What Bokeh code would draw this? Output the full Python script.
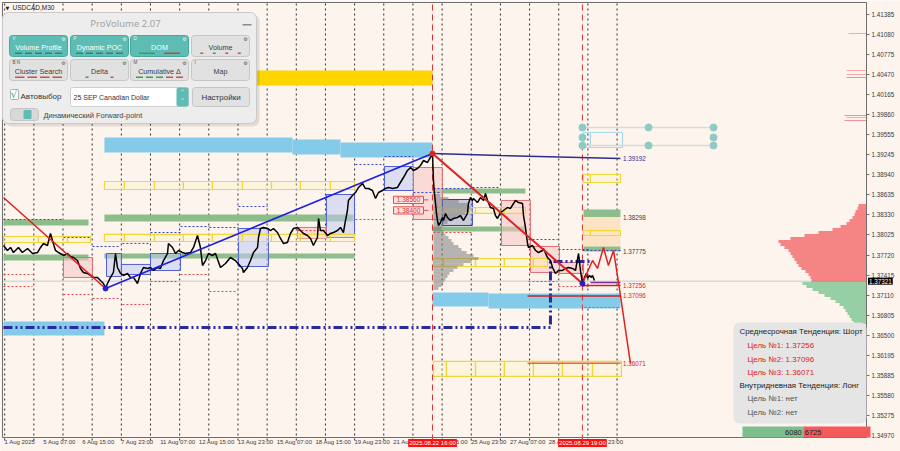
from bokeh.plotting import figure
from bokeh.models import Range1d, FixedTicker, NumeralTickFormatter, BoxAnnotation, Label, LinearAxis
from bokeh.core.properties import value
from bokeh.embed import file_html
from bokeh.resources import INLINE

# ============================ DATA ============================
symbol = "USDCAD,M30"
# time unit: trading hours counted from Fri 1 Aug 2025 23:00
x_label_t = [0, 32, 64, 96, 128, 160, 192, 224, 256, 288, 320, 352, 384, 416, 448, 480]
x_labels = ["1 Aug 2025", "5 Aug 07:00", "6 Aug 15:00", "7 Aug 23:00", "11 Aug 07:00",
            "12 Aug 15:00", "13 Aug 23:00", "15 Aug 07:00", "18 Aug 15:00", "19 Aug 23:00",
            "21 Aug 07:00", "22 Aug 15:00", "25 Aug 23:00", "27 Aug 07:00", "28 Aug 15:00",
            "29 Aug 23:00"]
y_ticks = [1.41385, 1.41080, 1.40775, 1.40470, 1.40165, 1.39860, 1.39555, 1.39245, 1.38940,
           1.38635, 1.38330, 1.38025, 1.37720, 1.37415, 1.37110, 1.36805, 1.36500, 1.36195,
           1.35885, 1.35580, 1.35275, 1.34970]
day_sep_t = [1, 25, 49, 73, 97, 121, 145, 169, 193, 217, 241, 265, 289, 313, 337, 361, 385,
             409, 433, 457, 481, 505]
event_t = [353.1, 476.5]
event_labels = ["2025.08.22 16:00", "2025.08.29 19:00"]
last_price = 1.37321

price_t = [0, 3.3, 5.8, 8.2, 12.3, 15.6, 19.8, 23.9, 28.0, 30.5,
           32.9, 36.2, 38.7, 40.3, 42.8, 45.3, 49.4, 52.7, 55.1, 57.6,
           60.9, 63.4, 65.8, 69.1, 71.6, 74.1, 77.4, 79.8, 82.3, 84.0,
           85.6, 88.1, 90.5, 92.2, 93.8, 96.3, 98.8, 102.1, 104.5, 107.0,
           110.3, 112.8, 115.2, 118.5, 121.0, 123.5, 126.7, 129.2, 131.7, 135.0,
           135.8, 139.1, 141.6, 144.0, 147.3, 149.8, 153.9, 156.4, 159.7, 162.1,
           163.8, 166.3, 168.7, 172.0, 174.5, 178.6, 182.7, 186.8, 190.9, 196.7,
           197.5, 200.8, 203.3, 205.8, 209.1, 209.9, 211.5, 214.0, 217.3, 219.8,
           222.2, 225.5, 228.0, 230.5, 233.7, 236.2, 238.7, 242.0, 244.4, 246.9,
           250.2, 252.7, 255.1, 258.4, 259.3, 260.9, 263.4, 266.7, 269.1, 271.6,
           274.9, 277.4, 279.8, 281.5, 283.1, 283.9, 287.2, 289.7, 292.2, 295.5,
           297.9, 300.4, 303.7, 306.2, 308.6, 311.9, 314.4, 316.9, 320.2, 324.3,
           326.7, 329.2, 332.5, 335.0, 337.4, 340.7, 343.2, 345.7, 349.0, 351.4,
           353.1, 353.9, 354.7, 355.6, 356.4, 357.2, 358.0, 359.7, 361.3, 362.1,
           363.8, 365.4, 367.9, 370.4, 373.7, 376.1, 378.6, 381.9, 382.7, 384.4,
           386.0, 386.8, 390.1, 392.6, 395.1, 396.7, 398.4, 400.8, 403.3, 404.9,
           406.6, 409.1, 411.5, 414.8, 417.3, 419.8, 421.4, 423.9, 427.2, 428.0,
           429.6, 431.3, 432.1, 435.4, 437.9, 440.3, 443.6, 444.4, 447.7, 450.2,
           451.9, 454.3, 456.8, 460.1, 462.6, 465.0, 468.3, 470.8, 473.3, 474.9,
           476.5, 478.2, 479.8, 480.7, 482.3, 483.9, 484.8, 486.4]
price_v = [1.37865, 1.37789, 1.37835, 1.37758, 1.37835, 1.37758, 1.37819, 1.37743, 1.37758, 1.37835,
           1.37895, 1.37865, 1.38048, 1.37941, 1.37789, 1.37758, 1.37713, 1.37743, 1.37697, 1.37682,
           1.37636, 1.37515, 1.37454, 1.37439, 1.37408, 1.37378, 1.37378, 1.37332, 1.37286, 1.37210,
           1.37286, 1.37378, 1.37454, 1.37743, 1.37530, 1.37439, 1.37408, 1.37439, 1.37378, 1.37378,
           1.37286, 1.37439, 1.37530, 1.37515, 1.37530, 1.37484, 1.37530, 1.37515, 1.37636, 1.37743,
           1.37895, 1.37835, 1.37743, 1.37789, 1.37758, 1.37743, 1.37758, 1.37835, 1.38017, 1.37835,
           1.37560, 1.37636, 1.37743, 1.37713, 1.37743, 1.37530, 1.37591, 1.37682, 1.37636, 1.37515,
           1.37454, 1.37530, 1.37636, 1.37758, 1.37835, 1.37987, 1.38124, 1.38140, 1.38124, 1.38093,
           1.38124, 1.38063, 1.37972, 1.37895, 1.37911, 1.38048, 1.38124, 1.38140, 1.38093, 1.38048,
           1.38017, 1.37972, 1.37865, 1.37987, 1.38277, 1.38093, 1.38093, 1.38017, 1.38048, 1.38063,
           1.38093, 1.38140, 1.38063, 1.38246, 1.38398, 1.38551, 1.38627, 1.38672, 1.38749, 1.38810,
           1.38733, 1.38733, 1.38703, 1.38581, 1.38672, 1.38703, 1.38733, 1.38749, 1.38733, 1.38749,
           1.38825, 1.38901, 1.39008, 1.39053, 1.39008, 1.39038, 1.39084, 1.39160, 1.39130, 1.39206,
           1.39267, 1.38855, 1.38657, 1.38505, 1.38353, 1.38246, 1.38170, 1.38216, 1.38292, 1.38246,
           1.38353, 1.38292, 1.38246, 1.38277, 1.38292, 1.38322, 1.38246, 1.38353, 1.38505, 1.38596,
           1.38551, 1.38581, 1.38520, 1.38596, 1.38551, 1.38657, 1.38551, 1.38444, 1.38429, 1.38322,
           1.38277, 1.38368, 1.38398, 1.38444, 1.38429, 1.38505, 1.38551, 1.38520, 1.38505, 1.38322,
           1.38140, 1.37895, 1.37835, 1.37865, 1.37789, 1.37758, 1.37789, 1.37819, 1.37682, 1.37636,
           1.37530, 1.37439, 1.37484, 1.37484, 1.37515, 1.37530, 1.37515, 1.37484, 1.37743, 1.37484,
           1.37286, 1.37378, 1.37439, 1.37363, 1.37408, 1.37378, 1.37408, 1.37332]

# volume zones
gold_t0, gold_t1, gold_top, gold_bot = [207.4], [353.1], [1.40531], [1.40303]
sky_t0 = [83.1, 237.9, 277.4, 353.1, 399.2, 0.0]
sky_t1 = [237.9, 277.4, 353.1, 399.2, 507.8, 83.1]
sky_top = [1.39511, 1.39480, 1.39434, 1.37149, 1.37134, 1.36707]
sky_bot = [1.39282, 1.39252, 1.39206, 1.36935, 1.36905, 1.36494]
green_t0 = [83.1, 0.0, 0.0, 83.1, 353.1, 353.1, 477.4, 477.4]
green_t1 = [288.1, 70.0, 70.0, 288.9, 429.6, 429.6, 507.8, 507.8]
green_top = [1.38337, 1.38261, 1.37728, 1.37743, 1.38733, 1.38154, 1.38414, 1.37850]
green_bot = [1.38231, 1.38170, 1.37636, 1.37667, 1.38657, 1.38078, 1.38298, 1.37775]
peach_t0, peach_t1, peach_top, peach_bot = [477.4], [507.8], [1.38298], [1.37850]

# yellow value-area boxes (edges in time, top/bottom price)
yel1_edges, yel1_top, yel1_bot = [83.1, 99.6, 124.3, 148.1, 172.0, 196.7, 220.6, 244.4, 269.1, 288.9], 1.38840, 1.38718
yel2_edges, yel2_top, yel2_bot = [83.1, 99.6, 124.3, 148.1, 172.0, 196.7, 220.6, 244.4, 269.1, 288.9], 1.38033, 1.37926
yel3_edges, yel3_top, yel3_bot = [0.0, 28.8, 52.7, 71.6], 1.38002, 1.37911
yel4_edges, yel4_top, yel4_bot = [353.9, 362.1, 388.5, 412.3, 436.2, 447.7], 1.37667, 1.37545
yel5_edges, yel5_top, yel5_bot = [353.9, 364.6, 388.5, 412.3, 436.2, 460.1, 484.8, 508.6], 1.36098, 1.35869
yel6_edges, yel6_top, yel6_bot = [353.9, 362.1, 388.5, 412.3, 429.6], 1.38444, 1.38353
yel7_edges, yel7_top, yel7_bot = [477.4, 483.1, 507.8], 1.38947, 1.38825
yel8_edges, yel8_top, yel8_bot = [477.4, 483.1, 507.8], 1.38093, 1.38017
lb_edges, lb_top, lb_bot = [477.4, 483.1, 509.5], 1.39587, 1.39358

# daily range boxes
up_t0 = [84.8, 97.1, 121.0, 193.4, 265.8, 313.6]
up_t1 = [97.1, 121.0, 145.7, 218.1, 288.9, 337.4]
up_hi = [1.37743, 1.37576, 1.37743, 1.38124, 1.38642, 1.39069]
up_lo = [1.37393, 1.37423, 1.37484, 1.37545, 1.37987, 1.38703]
dn_t0 = [49.4, 242.0, 337.4, 409.9, 433.7, 457.6]
dn_t1 = [73.3, 265.8, 361.3, 433.7, 457.6, 477.4]
dn_hi = [1.37682, 1.38140, 1.39053, 1.38551, 1.37850, 1.37606]
dn_lo = [1.37378, 1.37972, 1.38261, 1.37865, 1.37454, 1.37439]
va_t0, va_t1, va_hi, va_lo = [361.3], [385.9], [1.38566], [1.38170]

# dotted high / low lines
bd_t0 = [0, 49.4, 73.3, 97.9, 121.0, 145.7, 169.5, 193.4, 289.7, 313.6, 337.4, 353.9, 386.0, 432.1, 456.8, 476.5]
bd_t1 = [48.6, 71.6, 96.3, 121.0, 145.7, 169.5, 193.4, 217.3, 312.8, 337.4, 359.7, 386.0, 409.1, 456.0, 481.5, 507.8]
bd_v = [1.38261, 1.37987, 1.37850, 1.37896, 1.38063, 1.38154, 1.38139, 1.38459, 1.39099, 1.39221,
        1.38672, 1.38733, 1.38749, 1.37956, 1.37804, 1.37789]
rd_t0 = [0, 0, 49.4, 73.3, 97.9, 121.0, 145.7, 169.5, 242.0, 289.7, 353.9, 432.1, 456.8, 478.2]
rd_t1 = [23.9, 23.9, 71.6, 96.3, 119.3, 144.0, 168.7, 192.6, 265.0, 312.8, 386.0, 456.0, 481.5, 506.2]
rd_v = [1.37423, 1.37240, 1.37118, 1.37057, 1.36966, 1.37316, 1.37423, 1.37164, 1.38093, 1.38261,
        1.38063, 1.37316, 1.37240, 1.36920]

# volume profiles (relative volume)
gp_anchor = 353.9
gp_v = [1.38627, 1.38581, 1.38536, 1.38490, 1.38444, 1.38398, 1.38353, 1.38307, 1.38261, 1.38216,
        1.38170, 1.38124, 1.38078, 1.38033, 1.37987, 1.37941, 1.37895, 1.37850, 1.37804, 1.37758,
        1.37713, 1.37667, 1.37621, 1.37575, 1.37530, 1.37484, 1.37439, 1.37393, 1.37347, 1.37301,
        1.37255, 1.37210]
gp_vol = [7, 15, 25, 35, 37, 36, 32, 27, 20, 14, 10, 8, 10, 12, 15, 18, 20, 25, 28, 33,
          40, 45, 38, 30, 24, 20, 16, 14, 12, 10, 8, 5]
sell_prof_v = [1.38474, 1.38429, 1.38383, 1.38337, 1.38292, 1.38246, 1.38200, 1.38154, 1.38109, 1.38063,
               1.38017, 1.37972, 1.37926, 1.37880, 1.37835, 1.37789, 1.37743, 1.37697, 1.37652, 1.37606,
               1.37560, 1.37515, 1.37469, 1.37423, 1.37378, 1.37332]
sell_prof_vol = [8, 9, 11, 12, 14, 17, 20, 26, 34, 48, 62, 76, 88, 86, 82, 78, 76, 74, 72, 70,
                 68, 65, 61, 58, 56, 55]
buy_prof_v = [1.37286, 1.37240, 1.37194, 1.37149, 1.37103, 1.37057, 1.37011, 1.36966, 1.36920, 1.36874,
              1.36829, 1.36783, 1.36737, 1.36692]
buy_prof_vol = [64, 60, 54, 48, 42, 36, 31, 27, 23, 21, 19, 17, 15, 13]
thin_prof_v = [1.41095, 1.40531, 1.40470, 1.40425, 1.39846, 1.39815, 1.39770]
thin_prof_vol = [18, 20, 20, 20, 22, 20, 22]

# trend lines, forecast, levels
tr1_t, tr1_v = [0, 84.0], [1.38596, 1.37210]
tr2_t, tr2_v = [84.0, 353.1], [1.37210, 1.39267]
tr3_t, tr3_v = [353.1, 476.5], [1.39267, 1.37286]
fc_t = [476.5, 484.8, 488.9, 493.8, 497.9, 502.1, 506.2, 516.0]
fc_v = [1.37286, 1.37636, 1.37515, 1.37835, 1.37560, 1.37789, 1.37301, 1.36071]
low_pivot_t, low_pivot_v = [84.0, 476.5], [1.37210, 1.37286]
high_pivot_t, high_pivot_v = [353.1], [1.39267]
poc_t, poc_v = [353.1, 409.1, 507.8], [1.39267, 1.39236, 1.39192]
navy_t = [0, 450.2, 450.2, 484.8]
navy_v = [1.36616, 1.36616, 1.37621, 1.37621]
tgt_t0 = [477.4, 483.1, 431.3, 431.3]
tgt_t1 = [507.8, 507.8, 507.8, 507.8]
tgt_v = [1.37256, 1.37301, 1.37096, 1.36071]
level_lab_v = [1.39192, 1.38298, 1.37775, 1.37256, 1.37096, 1.36071]
price_tag_v = [1.38560, 1.38400]
price_tag_t0, price_tag_t1 = 321.0, 345.7
handle_t = [476.5, 530.9, 584.4, 476.5, 584.4, 476.5, 530.9, 584.4]
handle_v = [1.39663, 1.39663, 1.39663, 1.39511, 1.39511, 1.39389, 1.39389, 1.39389]

trend_mid = "Шорт"
trend_intraday = "Лонг"
targets_mid = [1.37256, 1.37096, 1.36071]
buy_vol, sell_vol = 6080, 6725

# ============================ FIGURE ============================
W, H = 900, 451
T0, T1 = -0.8, 710.3          # time at left / right edge of the price window
P0, P1 = 1.34939, 1.41568     # price at bottom / top edge of the price window
CL, CT, CR, CB = 2, 2, 866, 437   # price window edges on the canvas
px_per_h = (CR - CL) / (T1 - T0)
px_per_p = (CB - CT) / (P1 - P0)
X0, X1 = T0 - CL / px_per_h, T1 + (W - CR) / px_per_h
Y1, Y0 = P1 + CT / px_per_p, P0 - (H - CB) / px_per_p
BG = "#FDF4EE"
FONT = "Liberation Sans"
GRID = "#2E2E2E"

p = figure(width=W, height=H, x_range=Range1d(X0, X1), y_range=Range1d(Y0, Y1),
           output_backend="svg", toolbar_location=None,
           x_axis_location=None, y_axis_location=None,
           min_border_left=0, min_border_top=0, min_border_right=0, min_border_bottom=0,
           background_fill_color=BG, border_fill_color=BG, outline_line_color=None)
p.xgrid.visible = False
p.ygrid.visible = False

yax = LinearAxis(fixed_location=T1, ticker=FixedTicker(ticks=y_ticks, minor_ticks=[]),
                 formatter=NumeralTickFormatter(format="0.00000"))
yax.major_label_text_font = FONT
yax.major_label_text_font_size = "6.3px"
yax.major_label_text_color = "#3A3A3A"
yax.major_tick_out = 3
yax.major_tick_in = 0
yax.major_label_standoff = 2
yax.axis_line_color = None
yax.major_tick_line_color = "#6E6E6E"
yax.minor_tick_line_color = None
p.add_layout(yax, "right")


def text_w(s, size):
    return size * sum(0.278 if c in " :." else (0.667 if c.isupper() else 0.556) for c in s)


xt = [round(t + (text_w(s, 6.0) / 2 + 1) / px_per_h, 2) for t, s in zip(x_label_t, x_labels)]
xax = LinearAxis(fixed_location=P0, ticker=FixedTicker(ticks=xt, minor_ticks=[]))
xax.major_label_overrides = {v: s for v, s in zip(xt, x_labels)}
xax.major_label_text_font = FONT
xax.major_label_text_font_size = "6px"
xax.major_label_text_color = "#3A3A3A"
xax.major_tick_line_color = None
xax.major_tick_out = 0
xax.major_tick_in = 0
xax.minor_tick_line_color = None
xax.major_label_standoff = 1
xax.axis_line_color = None
p.add_layout(xax, "below")

tick_len = 3 / px_per_p
p.segment(x0=day_sep_t, y0=[P0 - tick_len] * len(day_sep_t), x1=day_sep_t, y1=[P1] * len(day_sep_t),
          line_color=GRID, line_dash="2 3", line_width=1)
p.segment(x0=[T0], y0=[last_price], x1=[T1], y1=[last_price], line_color="#C9C9C9", line_width=1)

# zones
p.quad(left=gold_t0, right=gold_t1, top=gold_top, bottom=gold_bot, fill_color="#FFD500", line_color=None)
p.quad(left=sky_t0, right=sky_t1, top=sky_top, bottom=sky_bot, fill_color="#84CBE9", line_color=None)
p.quad(left=peach_t0, right=peach_t1, top=peach_top, bottom=peach_bot, fill_color="#FBE3C3", line_color=None)
p.quad(left=green_t0, right=green_t1, top=green_top, bottom=green_bot, fill_color="#8DBD8A", line_color=None)

# daily boxes
p.quad(left=up_t0, right=up_t1, top=up_hi, bottom=up_lo, fill_color="#C3CBF4", fill_alpha=0.55,
       line_color="#5060D6", line_width=1)
p.quad(left=dn_t0, right=dn_t1, top=dn_hi, bottom=dn_lo, fill_color="#F6C4C4", fill_alpha=0.55,
       line_color="#E07070", line_width=1)
p.quad(left=va_t0, right=va_t1, top=va_hi, bottom=va_lo, fill_color="#8E96C8", fill_alpha=0.45,
       line_color="#2C3CB8", line_width=1)

# yellow boxes
for edges, top, bot in [(yel1_edges, yel1_top, yel1_bot), (yel2_edges, yel2_top, yel2_bot),
                        (yel3_edges, yel3_top, yel3_bot), (yel4_edges, yel4_top, yel4_bot),
                        (yel5_edges, yel5_top, yel5_bot), (yel6_edges, yel6_top, yel6_bot),
                        (yel7_edges, yel7_top, yel7_bot), (yel8_edges, yel8_top, yel8_bot)]:
    n = len(edges) - 1
    p.quad(left=edges[:-1], right=edges[1:], top=[top] * n, bottom=[bot] * n,
           fill_color="#FFF5B5", fill_alpha=0.3, line_color="#F0D63A", line_width=1.2)
p.quad(left=lb_edges[:-1], right=lb_edges[1:], top=[lb_top] * 2, bottom=[lb_bot] * 2,
       fill_color=None, line_color="#A9D9EA", line_width=1.2)

# dotted lines
p.segment(x0=bd_t0, y0=bd_v, x1=bd_t1, y1=bd_v, line_color="#3444C8", line_dash="2 2", line_width=1)
p.segment(x0=rd_t0, y0=rd_v, x1=rd_t1, y1=rd_v, line_color="#E04848", line_dash="2 2", line_width=1)

# volume profiles
p.hbar(y=gp_v, left=gp_anchor, right=[gp_anchor + v / px_per_h for v in gp_vol], height=0.00044,
       fill_color="#7E7E7E", fill_alpha=0.55, line_color=None)
p.hbar(y=sell_prof_v, left=[T1 - v / px_per_h for v in sell_prof_vol], right=T1, height=0.00046,
       fill_color="#F47878", fill_alpha=0.9, line_color=None)
p.hbar(y=buy_prof_v, left=[T1 - v / px_per_h for v in buy_prof_vol], right=T1, height=0.00046,
       fill_color="#8CCB9C", fill_alpha=0.9, line_color=None)
p.hbar(y=thin_prof_v, left=[T1 - v / px_per_h for v in thin_prof_vol], right=T1, height=0.00012,
       fill_color="#F49090", line_color=None)

# event verticals
p.segment(x0=event_t, y0=[P0 - tick_len] * 2, x1=event_t, y1=[P1] * 2, line_color="#E03030",
          line_dash="6 4", line_width=1)

# navy dash-dot support
p.line(navy_t, navy_v, line_color="#2A2AA0", line_width=3, line_dash="9 3 2 3 2 3")

# target levels
p.segment(x0=tgt_t0, y0=tgt_v, x1=tgt_t1, y1=tgt_v,
          line_color=["#D02020", "#8030A0", "#D02020", "#E86A30"], line_width=1.6)
p.line(poc_t, poc_v, line_color="#2E2E8E", line_width=1.5)

# price
p.line(price_t, price_v, line_color="#000000", line_width=1.5)

# trend lines
p.line(tr1_t, tr1_v, line_color="#E02020", line_width=1.5)
p.line(tr2_t, tr2_v, line_color="#1E1EE0", line_width=1.6)
p.line(tr3_t, tr3_v, line_color="#E02020", line_width=2)
p.line(fc_t, fc_v, line_color="#E02020", line_width=1.5)
p.scatter(low_pivot_t, low_pivot_v, size=5, color="#2020D0")
p.scatter(high_pivot_t, high_pivot_v, size=5, color="#E02020")

# handles
p.segment(x0=[handle_t[0], handle_t[0]], y0=[handle_v[0], handle_v[5]], x1=[handle_t[2], handle_t[2]],
          y1=[handle_v[0], handle_v[5]], line_color="#DADADA", line_width=1.5)
p.scatter(handle_t, handle_v, size=7, color="#8FCAC4")

# level labels
lab_t = 507.8 + 2.5 / px_per_h
p.text(x=[lab_t] * len(level_lab_v), y=level_lab_v, text=[f"{v:.5f}" for v in level_lab_v],
       text_font=value(FONT), text_font_size="6.3px", text_baseline="middle",
       text_color=["#2E2E8E", "#404040", "#404040", "#E02020", "#E02020", "#E02020"])

# price tags
ph = 3.6 / px_per_p
p.quad(left=[price_tag_t0] * 2, right=[price_tag_t1] * 2, top=[v + ph for v in price_tag_v],
       bottom=[v - ph for v in price_tag_v], fill_color="#FBE0E0", line_color="#E05050", line_width=1)
p.segment(x0=[price_tag_t1] * 2, y0=price_tag_v, x1=[price_tag_t1 + 4] * 2, y1=price_tag_v,
          line_color="#E05050")
p.text(x=[(price_tag_t0 + price_tag_t1) / 2] * 2, y=price_tag_v, text=[f"{v:.5f}" for v in price_tag_v],
       text_font=value(FONT), text_font_size="6.5px", text_color="#E03030", text_align="center",
       text_baseline="middle")

# price window border
p.quad(left=[T0], right=[T1], top=[P1], bottom=[P0], fill_color=None, line_color="#6E6E6E", line_width=1)

# ============================ OVERLAYS ============================


def sbox(l, t, r, b, fill, line=None, alpha=1.0, radius=0, lw=1.0):
    return BoxAnnotation(left=l, right=r, top=H - t, bottom=H - b,
                         left_units="screen", right_units="screen", top_units="screen",
                         bottom_units="screen", fill_color=fill, fill_alpha=alpha,
                         line_color=line, line_alpha=1.0, line_width=lw, border_radius=radius)


def slabel(x, y, text, size="8px", color="#222222", align="left", font=FONT, **kw):
    return Label(x=x, y=H - y, x_units="screen", y_units="screen", text=text,
                 text_font_size=size, text_color=color, text_align=align, text_baseline="middle",
                 text_font=font, **kw)


ann = []
ann.append(slabel(7, 7, "▼", size="5px", align="center", font="DejaVu Sans"))
ann.append(slabel(12, 7, symbol, size="6.5px"))

# ProVolume panel
TEAL = "#5DBCB3"
ann.append(sbox(4, 14, 259, 126, "#000000", alpha=0.10, radius=7))
ann.append(sbox(2, 12, 256, 123, "#EDEDED", line="#C9C9C9", radius=6))
ann.append(slabel(125, 23, "ProVolume 2.07", size="9.5px", color="#A3A3A3", align="center",
                  font="Noto Sans"))
ann.append(sbox(242, 23.5, 251, 25, "#8A8A8A"))
btn_x = [(9, 67), (70, 128), (130, 188), (191, 249)]
rows = [((35, 56), ["Volume Profile", "Dynamic POC", "DOM", "Volume"], [True, True, True, False],
         ["V", "P", "D", ""],
         [["#3A7F78"] * 5, ["#3A7F78"] * 5, ["#3CA050", "#C04848"], ["#D05050", "#3CA050", "#D05050", "#D05050"]]),
        ((59, 80), ["Cluster Search", "Delta", "Cumulative Δ", "Map"], [False] * 4,
         ["B  N", "", "M", "I"],
         [["#D05050"] * 4, ["#3CA050", "#D05050"], ["#3CA050"] * 3 + ["#D05050"] * 2, []])]
for (yt, yb), names, teal, tags, inds in rows:
    for (xl, xr), nm, tl, tg, ic in zip(btn_x, names, teal, tags, inds):
        ann.append(sbox(xl, yt, xr, yb, TEAL if tl else "#E1E1E1", line="#4AA89F" if tl else "#C6C6C6",
                        radius=3))
        ann.append(slabel((xl + xr) / 2, yt + 12, nm, size="7.2px",
                          color="#FFFFFF" if tl else "#3C3C3C", align="center"))
        if tg:
            ann.append(slabel(xl + 3, yt + 3, tg, size="4.5px", color="#E9F7F5" if tl else "#555555"))
        ann.append(slabel(xr - 4, yt + 3, "⚙", size="5px", color="#E9F7F5" if tl else "#555555",
                          align="center", font="DejaVu Sans"))
        if ic:
            n = len(ic)
            span = (xr - xl - 8) / n
            dw = 3 if nm in ("Volume", "Delta") else min(span - 3, 16)
            for i, c in enumerate(ic):
                cx = xl + 4 + span * (i + 0.5)
                ann.append(sbox(cx - dw / 2, yb - 4, cx + dw / 2, yb - 2.5, c))
ann.append(sbox(10, 89, 18, 99, "#FFFFFF", line="#B0B0B0", radius=1))
ann.append(slabel(13.5, 94, "√", size="11px", color="#49B3A8", align="center", font="DejaVu Sans"))
ann.append(slabel(20, 96, "Автовыбор", size="8px", color="#333333"))
ann.append(sbox(70, 87, 188, 106, "#FFFFFF", line="#CFCFCF", radius=2))
ann.append(slabel(73, 97, "25 SEP Canadian Dollar", size="7px", color="#333333"))
ann.append(sbox(176, 87, 188, 106, TEAL, radius=2))
ann.append(slabel(182, 92, "˄", size="7px", color="#FFFFFF", align="center", font="DejaVu Sans"))
ann.append(slabel(182, 101, "˅", size="7px", color="#FFFFFF", align="center", font="DejaVu Sans"))
ann.append(sbox(192, 87, 249, 106, "#E1E1E1", line="#C6C6C6", radius=3))
ann.append(slabel(220.5, 97, "Настройки", size="8px", color="#333333", align="center"))
ann.append(sbox(10, 108, 38, 120, "#D8D8D8", line="#C6C6C6", radius=3))
ann.append(sbox(23, 109.5, 31, 118.5, TEAL, radius=1))
ann.append(slabel(43, 114.5, "Динамический Forward-point", size="7.5px", color="#444444"))

# info box
ann.append(sbox(733, 322, 866, 423, "#E4E4E4", alpha=0.95, radius=6))
info = [(739, 331, f"Среднесрочная Тенденция: {trend_mid}", "#222222")]
for i, v in enumerate(targets_mid):
    info.append((747, 345 + 13.5 * i, f"Цель №{i + 1}: {v:.5f}", "#E02020"))
info.append((739, 385, f"Внутридневная Тенденция: {trend_intraday}", "#222222"))
info.append((747, 398, "Цель №1: нет", "#555555"))
info.append((747, 412, "Цель №2: нет", "#555555"))
for x, y, s, c in info:
    ann.append(slabel(x, y, s, size="7.9px", color=c))
bar_l, bar_w = 742, 128
split = bar_l + bar_w * buy_vol / (buy_vol + sell_vol)
ann.append(sbox(bar_l, 426, split, 437, "#7DBE8E"))
ann.append(sbox(split, 426, bar_l + bar_w, 437, "#F45A5A"))
ann.append(slabel(split - 1.5, 431.5, str(buy_vol), size="7.5px", color="#222222", align="right"))
ann.append(slabel(split + 1.5, 431.5, str(sell_vol), size="7.5px", color="#222222"))

for a in ann:
    p.add_layout(a)

lab_row = P0 - 5.5 / px_per_p
for t, s in zip(event_t, event_labels):
    p.add_layout(Label(x=t, y=lab_row, text=s, text_align="center",
                       text_baseline="middle", text_font=FONT, text_font_size="6px",
                       text_color="#FFFFFF", background_fill_color="#FF1010", padding=1))
p.add_layout(Label(x=T1 + 1.5 / px_per_h, y=last_price,
                   text=f"{last_price:.5f}", text_baseline="middle", text_font=FONT,
                   text_font_size="6.3px", text_color="#FFFFFF", background_fill_color="#000000",
                   padding=1))

open("out.html", "w").write(file_html(p, INLINE))
